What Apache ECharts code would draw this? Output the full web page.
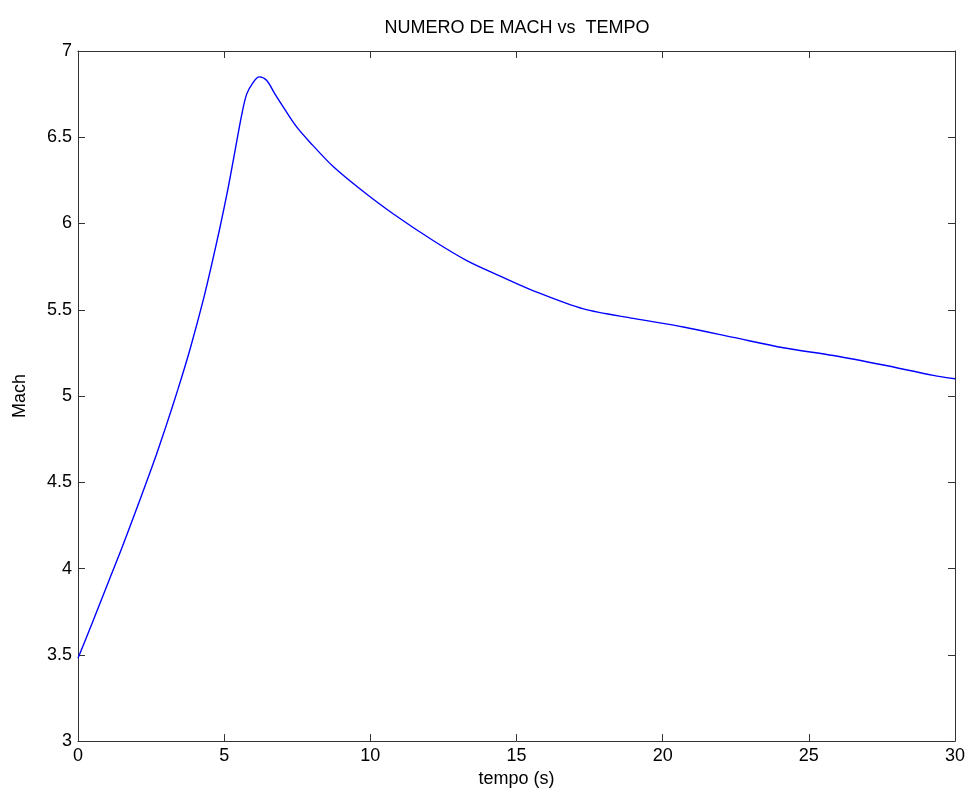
<!DOCTYPE html>
<html>
<head>
<meta charset="utf-8">
<title>NUMERO DE MACH vs TEMPO</title>
<script src="https://cdn.jsdelivr.net/npm/echarts@6/dist/echarts.min.js"></script>
<style>
  html, body { margin: 0; padding: 0; background: #fff; }
  #chart { width: 968px; height: 793px; }
</style>
</head>
<body>
<div id="chart"></div>
<script>
// Flight time (s) and Mach number
const tempo = [0, 0.5, 1.08, 1.48, 1.88, 2.34, 2.68, 3.02, 3.42, 3.83, 4.29, 4.57, 4.86,
  5.14, 5.37, 5.6, 5.77, 6.0, 6.2, 6.45, 6.74, 7.08, 7.48, 7.94, 8.73, 9.65, 10.79,
  12.16, 13.3, 14.44, 15.58, 17.29, 19.0, 20.71, 22.42, 24.13, 25.84, 27.55, 29.26, 30];
const mach = [3.48, 3.69, 3.94, 4.11, 4.29, 4.5, 4.66, 4.83, 5.04, 5.27, 5.56, 5.76, 5.98,
  6.21, 6.42, 6.63, 6.75, 6.82, 6.85, 6.83, 6.75, 6.66, 6.56, 6.47, 6.33, 6.2, 6.055,
  5.9, 5.785, 5.695, 5.61, 5.505, 5.45, 5.4, 5.34, 5.28, 5.235, 5.18, 5.12, 5.1];

const xTicks = [0, 5, 10, 15, 20, 25, 30];
const yTicks = [3, 3.5, 4, 4.5, 5, 5.5, 6, 6.5, 7];

const FONT = 'Liberation Sans, Arial, sans-serif';
const FS = 18;
const axisColor = '#333';

const chart = echarts.init(document.getElementById('chart'), null, { renderer: 'canvas' });

function boxAxis(extra) {
  return Object.assign({
    type: 'value',
    axisLine: { show: true, onZero: false, lineStyle: { color: axisColor, width: 1 } },
    axisTick: { show: true, inside: true, length: 7, lineStyle: { color: axisColor } },
    splitLine: { show: false },
    axisLabel: { show: false }
  }, extra);
}

chart.setOption({
  backgroundColor: '#fff',
  animation: false,
  title: {
    text: 'NUMERO DE MACH vs  TEMPO',
    left: 512, top: 14, textAlign: 'center',
    textStyle: { fontFamily: FONT, fontSize: FS, fontWeight: 'normal', color: '#000' }
  },
  grid: { left: 78, right: 13, top: 51, bottom: 49 },
  xAxis: [
    boxAxis({
      position: 'bottom', min: xTicks[0], max: xTicks[xTicks.length - 1], interval: 5,
      name: 'tempo (s)', nameLocation: 'middle', nameGap: 25,
      nameTextStyle: { fontFamily: FONT, fontSize: FS, color: '#000' },
      axisLabel: { show: true, margin: 6, fontFamily: FONT, fontSize: FS, color: '#000' }
    }),
    boxAxis({ position: 'top', min: xTicks[0], max: xTicks[xTicks.length - 1], interval: 5 })
  ],
  yAxis: [
    boxAxis({
      position: 'left', min: yTicks[0], max: yTicks[yTicks.length - 1], interval: 0.5,
      name: 'Mach', nameLocation: 'middle', nameGap: 49, nameRotate: 90,
      nameTextStyle: { fontFamily: FONT, fontSize: FS, color: '#000' },
      axisLabel: { show: true, margin: 6, fontFamily: FONT, fontSize: FS, color: '#000' }
    }),
    boxAxis({ position: 'right', min: yTicks[0], max: yTicks[yTicks.length - 1], interval: 0.5 })
  ],
  series: [{
    type: 'line',
    xAxisIndex: 0, yAxisIndex: 0,
    data: tempo.map((t, i) => [t, mach[i]]),
    smooth: 0.3,
    showSymbol: false,
    lineStyle: { color: '#0000ff', width: 1.4 }
  }]
});
</script>
</body>
</html>
